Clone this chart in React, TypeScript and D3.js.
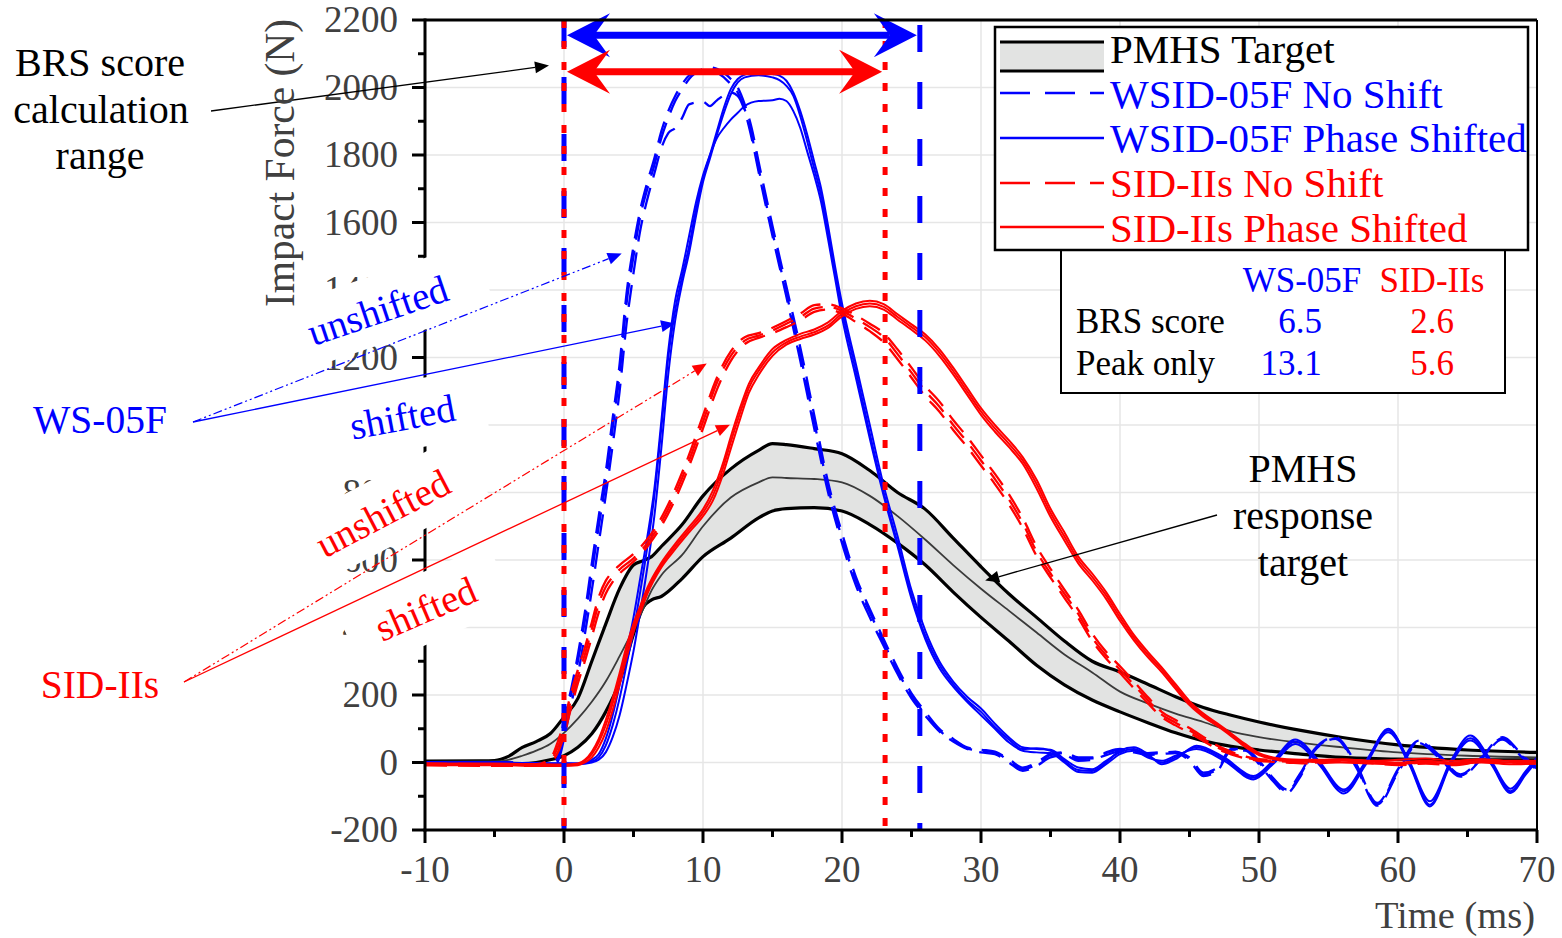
import React from 'react';
import * as d3 from 'd3';

// axis ticks
const xTickValues = [-10, 0, 10, 20, 30, 40, 50, 60, 70];
const xMinorValues = [-5, 5, 15, 25, 35, 45, 55, 65];
const yTickValues = [-200, 0, 200, 400, 600, 800, 1000, 1200, 1400, 1600, 1800, 2000, 2200];
const yMinorValues = [-100, 100, 300, 500, 700, 900, 1100, 1300, 1500, 1700, 1900, 2100];

// BRS score calculation windows (ms)
const brsEndWs = 25.6;
const brsEndSid = 23.1;

// PMHS target corridor
const pmhsT = [-10, -6, -5, -4, -3, -2, -1, 0, 1, 2, 3, 4, 5, 5.7, 6.3, 7, 8.5, 10, 12, 14, 15, 16, 18, 20, 22, 24, 26, 28, 30, 32, 34, 36, 38, 40, 42, 44, 46, 48, 50, 53, 56, 60, 65, 70];
const pmhsUpper = [4, 5, 6, 18, 45, 62, 85, 135, 190, 300, 410, 515, 585, 598, 610, 640, 705, 790, 870, 925, 945, 942, 930, 915, 865, 800, 750, 665, 580, 500, 430, 360, 300, 268, 232, 195, 163, 140, 120, 95, 74, 52, 37, 30];
const pmhsMean = [2, 3, 3, 8, 20, 35, 55, 88, 130, 180, 240, 315, 395, 455, 510, 555, 615, 700, 785, 830, 845, 843, 840, 830, 790, 730, 660, 585, 515, 450, 385, 320, 267, 210, 175, 145, 120, 92, 75, 58, 45, 30, 20, 15];
const pmhsLower = [0, 0, 0, -2, -3, 0, 8, 20, 45, 85, 150, 240, 380, 460, 482, 492, 545, 610, 665, 725, 745, 752, 755, 745, 705, 650, 585, 505, 430, 360, 288, 230, 185, 150, 118, 88, 64, 48, 37, 25, 15, 10, 8, 8];

// WSID-05F no shift (3 tests)
const blueNoShiftT = [-10, -5, -1, -0.5, 0, 0.5, 1, 1.5, 2, 2.5, 3, 3.5, 4, 4.5, 5, 5.5, 6, 6.5, 7, 7.5, 8, 8.5, 9, 10, 10.5, 11, 12, 12.5, 13, 13.5, 14, 15, 16, 17, 18, 19, 20, 21, 22, 23, 24, 25, 26, 27, 28, 29, 30, 31, 32, 33, 34, 35, 36, 37, 38, 39, 40, 41, 42, 43, 44, 45, 46, 47, 48, 49, 50, 51, 52, 53, 54, 55.5, 57, 58.5, 60, 61.5, 63, 64.5, 66, 67.5, 69, 70];
const blueNoShiftA = [0, 0, -3, 5, 110, 200, 300, 420, 560, 700, 830, 990, 1150, 1360, 1500, 1620, 1700, 1770, 1850, 1910, 1960, 1995, 2025, 2055, 2060, 2055, 2025, 2000, 1950, 1880, 1780, 1590, 1410, 1230, 1030, 830, 680, 550, 455, 365, 280, 205, 150, 100, 70, 45, 38, 32, 10, -15, 0, 25, 30, 15, 15, 30, 40, 35, 28, 30, 30, 15, -30, -15, 40, 40, 5, -45, -80, -30, 40, 75, -5, -120, -20, 65, 20, -35, 15, 75, 20, -15];
const blueNoShiftB = [0, 0, -3, 0, 70, 170, 260, 380, 510, 650, 790, 940, 1100, 1300, 1450, 1580, 1670, 1745, 1820, 1865, 1880, 1910, 1950, 1958, 1945, 1962, 1985, 1975, 1930, 1850, 1750, 1560, 1380, 1190, 990, 800, 650, 525, 430, 345, 262, 190, 138, 92, 62, 40, 30, 25, 0, -25, -10, 15, 22, 5, 8, 22, 32, 30, 22, 25, 28, 5, -40, -25, 35, 35, -5, -55, -90, -40, 35, 70, -15, -128, -30, 58, 12, -42, 10, 68, 12, -22];
const blueNoShiftC = [0, 0, -3, 10, 130, 215, 320, 445, 590, 730, 860, 1020, 1180, 1390, 1530, 1640, 1720, 1790, 1870, 1930, 1975, 2010, 2035, 2050, 2055, 2045, 2010, 1985, 1935, 1860, 1760, 1570, 1390, 1210, 1010, 815, 665, 540, 445, 355, 270, 198, 142, 95, 66, 42, 35, 30, 5, -20, -5, 22, 28, 10, 12, 28, 38, 32, 25, 28, 32, 10, -35, -20, 38, 38, 0, -50, -85, -35, 38, 72, -10, -124, -25, 62, 16, -38, 12, 72, 16, -18];

// WSID-05F phase shifted (3 tests)
const blueShiftT = [-10, -5, -1, 0, 1, 2, 2.5, 3, 3.5, 4, 4.5, 5, 5.5, 6, 6.5, 7, 7.5, 8, 8.5, 9, 9.5, 10, 10.5, 11, 11.5, 12, 12.5, 13, 14, 15, 15.5, 16, 16.5, 17, 17.5, 18, 18.5, 19, 19.5, 20, 21, 22, 23, 24, 25, 26, 27, 28, 29, 30, 31, 32, 33, 34, 35, 36, 37, 38, 39, 40, 41, 42, 43, 44, 45.5, 47.5, 49.6, 51, 52.6, 54.3, 56.1, 57.7, 59.3, 60.8, 62.3, 63.8, 65.2, 66.7, 68.1, 69.2, 70];
const blueShiftA = [0, 0, -3, -3, -3, 3, 15, 50, 110, 190, 290, 390, 510, 640, 790, 990, 1200, 1340, 1440, 1530, 1640, 1730, 1800, 1870, 1940, 1995, 2025, 2038, 2045, 2040, 2035, 2020, 1985, 1930, 1860, 1780, 1700, 1590, 1470, 1360, 1180, 1000, 820, 670, 510, 390, 300, 240, 195, 160, 115, 75, 45, 40, 38, 10, -15, -20, 5, 30, 40, 20, 0, 15, 45, 10, -45, 0, 62, 0, -85, 0, 100, 0, -125, 0, 72, 0, -85, -30, 10];
const blueShiftB = [0, 0, -3, -3, -5, 0, 8, 30, 75, 140, 230, 330, 450, 580, 730, 930, 1150, 1310, 1420, 1510, 1620, 1720, 1790, 1860, 1925, 1980, 2015, 2030, 2036, 2030, 2022, 2005, 1975, 1915, 1840, 1760, 1680, 1570, 1450, 1340, 1160, 975, 800, 650, 495, 375, 290, 232, 185, 150, 105, 68, 40, 42, 35, 5, -22, -25, 0, 35, 45, 25, -5, 10, 50, 15, -40, 5, 68, 5, -80, 5, 95, 5, -115, 5, 80, 5, -78, -25, 15];
const blueShiftC = [0, 0, -3, -3, -3, 8, 25, 70, 140, 230, 330, 430, 550, 670, 810, 1010, 1220, 1370, 1460, 1560, 1660, 1740, 1800, 1850, 1880, 1905, 1925, 1945, 1960, 1962, 1967, 1960, 1930, 1880, 1810, 1740, 1660, 1550, 1435, 1320, 1140, 960, 790, 640, 485, 365, 280, 225, 180, 140, 100, 60, 35, 30, 28, 0, -28, -30, -5, 25, 35, 15, 5, 20, 40, 5, -50, -5, 55, -5, -92, -5, 90, -5, -130, -5, 65, -5, -90, -35, 5];

// SID-IIs no shift (3 tests)
const redNoShiftT = [-10, -5, -2, -1, -0.5, 0, 0.5, 1, 1.5, 2, 2.5, 3, 3.5, 4, 5, 6, 7, 8, 9, 10, 11, 12, 13, 14, 15, 16, 17, 18, 19, 20, 21, 22, 23, 24, 25, 26, 27, 28, 29, 30, 31, 32, 33, 34, 35, 36, 37, 38, 39, 40, 41, 42, 43, 44, 45, 46, 47, 48, 49, 50, 51, 52, 54, 56, 58, 60, 62, 64, 66, 68, 70];
const redNoShiftA = [-5, -8, -8, 5, 40, 100, 185, 255, 320, 395, 470, 520, 550, 572, 605, 650, 712, 795, 895, 1010, 1125, 1205, 1250, 1265, 1280, 1300, 1320, 1345, 1350, 1338, 1315, 1290, 1260, 1210, 1155, 1100, 1055, 1000, 950, 895, 840, 780, 710, 625, 560, 500, 440, 370, 318, 275, 230, 185, 142, 118, 95, 70, 45, 28, 15, 8, 5, 3, 0, 5, 2, -5, 0, -5, 5, 0, 0];
const redNoShiftB = [-8, -10, -10, 0, 25, 80, 160, 235, 300, 372, 445, 500, 535, 560, 595, 640, 700, 780, 878, 990, 1105, 1190, 1240, 1258, 1272, 1290, 1310, 1335, 1342, 1330, 1305, 1278, 1245, 1195, 1140, 1085, 1040, 985, 935, 880, 825, 765, 695, 612, 548, 488, 428, 360, 308, 265, 220, 176, 135, 110, 88, 64, 40, 24, 12, 5, 2, 0, -3, 2, -2, -8, -3, -8, 2, -3, -3];
const redNoShiftC = [-3, -5, -5, 10, 55, 120, 205, 275, 340, 415, 490, 538, 565, 585, 618, 662, 725, 810, 912, 1028, 1140, 1218, 1260, 1272, 1288, 1308, 1330, 1355, 1358, 1346, 1325, 1300, 1272, 1224, 1170, 1115, 1070, 1015, 965, 910, 855, 795, 725, 640, 574, 512, 452, 382, 328, 285, 240, 194, 150, 126, 102, 76, 50, 32, 18, 10, 8, 5, 3, 8, 5, -2, 3, -2, 8, 3, 3];

// SID-IIs phase shifted (3 tests)
const redShiftT = [-10, -5, -2, 0, 1, 1.5, 2, 2.5, 3, 3.5, 4, 4.5, 5, 5.5, 6, 7, 8, 9, 10, 10.7, 11.5, 12, 12.7, 13.3, 14, 15, 16, 17, 18, 19, 20, 21, 22, 23, 24, 25, 26, 27, 28, 29, 30, 31, 32, 33, 34, 35, 36, 37, 38, 39, 40, 41, 42, 43, 44, 45, 46, 47, 48, 49, 50, 51, 52, 54, 56, 58, 60, 62, 64, 66, 68, 70];
const redShiftA = [-5, -5, -8, -8, -5, 5, 25, 60, 110, 175, 250, 330, 400, 455, 510, 585, 640, 690, 740, 790, 880, 950, 1040, 1110, 1160, 1215, 1245, 1262, 1275, 1295, 1330, 1352, 1360, 1350, 1320, 1290, 1260, 1215, 1160, 1100, 1040, 990, 945, 895, 825, 740, 670, 600, 550, 495, 430, 370, 320, 275, 225, 175, 140, 112, 82, 50, 25, 12, 8, 5, 5, 2, 0, 5, 0, 5, 0, 0];
const redShiftB = [-8, -8, -10, -10, -8, 0, 15, 45, 90, 155, 230, 310, 385, 445, 500, 578, 632, 682, 730, 775, 862, 930, 1022, 1095, 1148, 1205, 1238, 1255, 1268, 1288, 1322, 1344, 1352, 1342, 1312, 1282, 1250, 1205, 1150, 1090, 1030, 980, 935, 885, 812, 728, 658, 590, 540, 485, 420, 362, 312, 268, 218, 170, 135, 108, 78, 46, 22, 10, 5, 2, 0, -3, -5, 0, -5, 0, -5, -3];
const redShiftC = [-3, -3, -5, -6, -3, 8, 32, 70, 125, 190, 265, 345, 412, 465, 518, 592, 648, 698, 750, 805, 895, 965, 1055, 1122, 1170, 1225, 1252, 1270, 1283, 1304, 1338, 1360, 1368, 1358, 1328, 1298, 1268, 1225, 1170, 1110, 1050, 1000, 955, 905, 838, 752, 682, 610, 560, 505, 440, 378, 328, 282, 232, 182, 145, 116, 86, 55, 28, 15, 10, 8, 10, 5, 8, 12, 5, 10, 5, 5];

// legend + score table
const legendLabels = ['PMHS Target', 'WSID-05F No Shift', 'WSID-05F Phase Shifted', 'SID-IIs No Shift', 'SID-IIs Phase Shifted'];
const tableHeaders = ['WS-05F', 'SID-IIs'];
const tableRows = ['BRS score', 'Peak only'];
const tableWs = ['6.5', '13.1'];
const tableSid = ['2.6', '5.6'];

const BLUE = '#0000ff';
const RED = '#ff0000';
const GRAY = '#404040';
const FONT = '"Liberation Serif", "Times New Roman", serif';

function headPoints(x1: number, y1: number, x2: number, y2: number, len = 14, hw = 6) {
  const dx = x2 - x1, dy = y2 - y1;
  const n = Math.hypot(dx, dy);
  const ux = dx / n, uy = dy / n;
  const bx = x2 - ux * len, by = y2 - uy * len;
  return {
    base: [bx, by],
    pts: `${x2},${y2} ${bx - uy * hw},${by + ux * hw} ${bx + uy * hw},${by - ux * hw}`,
  };
}

function Arrow({ x1, y1, x2, y2, color, width = 1.2, dash }: any) {
  const h = headPoints(x1, y1, x2, y2);
  return (
    <g>
      <line x1={x1} y1={y1} x2={h.base[0]} y2={h.base[1]} stroke={color} strokeWidth={width} strokeDasharray={dash} />
      <polygon points={h.pts} fill={color} />
    </g>
  );
}

function RangeArrow({ xl, xr, yy, color }: any) {
  const L = 43, W = 22, N = 27;
  const d =
    `M${xl},${yy} L${xl + L},${yy - W} L${xl + N},${yy} L${xl + L},${yy + W} Z ` +
    `M${xr},${yy} L${xr - L},${yy - W} L${xr - N},${yy} L${xr - L},${yy + W} Z`;
  return (
    <g>
      <line x1={xl + N} x2={xr - N} y1={yy} y2={yy} stroke={color} strokeWidth={7} />
      <path d={d} fill={color} />
    </g>
  );
}

export default function App() {
  const x = d3.scaleLinear().domain([-10, 70]).range([425, 1537]);
  const y = d3.scaleLinear().domain([-200, 2200]).range([830, 20]);

  const path = (ts: number[], vs: number[]) =>
    d3.line<number>().x((_, i) => x(ts[i])).y((v) => y(v)).curve(d3.curveMonotoneX)(vs) as string;

  const band = d3
    .area<number>()
    .x((_, i) => x(pmhsT[i]))
    .y0((_, i) => y(pmhsLower[i]))
    .y1((v) => y(v))
    .curve(d3.curveMonotoneX)(pmhsUpper) as string;

  const groups = [
    { t: blueNoShiftT, runs: [blueNoShiftA, blueNoShiftB, blueNoShiftC], color: BLUE, dash: '22 11', w: 2.3 },
    { t: blueShiftT, runs: [blueShiftA, blueShiftB, blueShiftC], color: BLUE, dash: undefined, w: 2 },
    { t: redNoShiftT, runs: [redNoShiftA, redNoShiftB, redNoShiftC], color: RED, dash: '22 11', w: 2.3 },
    { t: redShiftT, runs: [redShiftA, redShiftB, redShiftC], color: RED, dash: undefined, w: 2 },
  ];

  const callouts = [
    { text: 'unshifted', color: BLUE, cx: 382, cy: 323, angle: -18.6, w: 145, pad: 40 },
    { text: 'shifted', color: BLUE, cx: 405, cy: 430, angle: -10.7, w: 106, pad: 30 },
    { text: 'unshifted', color: RED, cx: 389, cy: 525, angle: -27.6, w: 145, pad: 30 },
    { text: 'shifted', color: RED, cx: 431, cy: 621, angle: -23.3, w: 106, pad: 30 },
  ];

  const legendRows = [56, 93, 138, 183, 227];
  const legendBase = [63, 108, 152, 197, 242];
  const legendStyles = [
    null,
    { color: BLUE, dash: '30 15' },
    { color: BLUE, dash: undefined },
    { color: RED, dash: '30 15' },
    { color: RED, dash: undefined },
  ];

  return (
    <svg width={1562} height={938} style={{ position: 'absolute', left: 0, top: 0, background: '#fff' }} fontFamily={FONT}>
      <rect x={0} y={0} width={1562} height={938} fill="#fff" />

      {/* grid */}
      <g stroke="#e6e6e6" strokeWidth={1.5}>
        {xTickValues.slice(1, -1).map((v) => (
          <line key={'gx' + v} x1={x(v)} x2={x(v)} y1={y(2200)} y2={y(-200)} />
        ))}
        {yTickValues.slice(1, -1).map((v) => (
          <line key={'gy' + v} x1={x(-10)} x2={x(70)} y1={y(v)} y2={y(v)} />
        ))}
      </g>

      {/* PMHS corridor */}
      <path d={band} fill="#e2e3e2" />
      <path d={path(pmhsT, pmhsUpper)} fill="none" stroke="#000" strokeWidth={3.2} />
      <path d={path(pmhsT, pmhsLower)} fill="none" stroke="#000" strokeWidth={3.2} />
      <path d={path(pmhsT, pmhsMean)} fill="none" stroke="#3a3a3a" strokeWidth={1.8} />

      {/* dummy responses */}
      {groups.map((g, gi) =>
        g.runs.map((r, ri) => (
          <path key={`c${gi}-${ri}`} d={path(g.t, r)} fill="none" stroke={g.color} strokeWidth={g.w} strokeDasharray={g.dash} />
        ))
      )}

      {/* BRS windows */}
      <line x1={x(0)} x2={x(0)} y1={y(2200)} y2={y(-200)} stroke={BLUE} strokeWidth={5} strokeDasharray="27 30" />
      <line x1={x(brsEndWs)} x2={x(brsEndWs)} y1={y(2185)} y2={y(-200)} stroke={BLUE} strokeWidth={5} strokeDasharray="27 30" />
      <line x1={x(0)} x2={x(0)} y1={y(2200)} y2={y(-200)} stroke={RED} strokeWidth={5} strokeDasharray="8 13" />
      <line x1={x(brsEndSid)} x2={x(brsEndSid)} y1={y(2200)} y2={y(-200)} stroke={RED} strokeWidth={5} strokeDasharray="8 13" />
      <RangeArrow xl={x(0) + 3} xr={x(brsEndWs) - 3} yy={y(2155)} color={BLUE} />
      <RangeArrow xl={x(0) + 3} xr={x(brsEndSid) - 3} yy={y(2047)} color={RED} />

      {/* axes */}
      <g stroke="#000">
        <line x1={x(-10)} x2={x(70)} y1={y(2200)} y2={y(2200)} strokeWidth={3} />
        <line x1={x(70)} x2={x(70)} y1={y(2200)} y2={y(-200)} strokeWidth={2} />
        <line x1={x(-10)} x2={x(-10)} y1={y(2200) - 1.5} y2={y(-200) + 1.5} strokeWidth={3} />
        <line x1={x(-10) - 1.5} x2={x(70) + 1} y1={y(-200)} y2={y(-200)} strokeWidth={3} />
        {xTickValues.map((v) => (
          <line key={'xt' + v} x1={x(v)} x2={x(v)} y1={y(-200)} y2={y(-200) + 13} strokeWidth={3} />
        ))}
        {xMinorValues.map((v) => (
          <line key={'xm' + v} x1={x(v)} x2={x(v)} y1={y(-200)} y2={y(-200) + 7} strokeWidth={3} />
        ))}
        {yTickValues.map((v) => (
          <line key={'yt' + v} x1={x(-10) - 13} x2={x(-10)} y1={y(v)} y2={y(v)} strokeWidth={3} />
        ))}
        {yMinorValues.map((v) => (
          <line key={'ym' + v} x1={x(-10) - 7} x2={x(-10)} y1={y(v)} y2={y(v)} strokeWidth={3} />
        ))}
      </g>
      <g fill={GRAY} fontSize={37}>
        {xTickValues.map((v) => (
          <text key={'xl' + v} x={x(v)} y={882} textAnchor="middle">{v}</text>
        ))}
        {yTickValues.map((v) => (
          <text key={'yl' + v} x={398} y={y(v) + 12} textAnchor="end">{v}</text>
        ))}
      </g>

      {/* callout labels with white backing */}
      {callouts.map((c, i) => (
        <g key={'co' + i} transform={`translate(${c.cx},${c.cy}) rotate(${c.angle})`}>
          <rect x={-(c.w / 2 + c.pad)} y={-48} width={c.w + 2 * c.pad} height={68} fill="#fff" />
          <text x={0} y={0} textAnchor="middle" fontSize={39} fill={c.color}>{c.text}</text>
        </g>
      ))}

      {/* annotations */}
      <text x={100} y={433} textAnchor="middle" fontSize={39.5} fill={BLUE}>WS-05F</text>
      <text x={100} y={698} textAnchor="middle" fontSize={39.5} fill={RED}>SID-IIs</text>
      <Arrow x1={193} y1={422} x2={x(4.15)} y2={y(1508)} color={BLUE} width={1.2} dash="9 3 2 3 2 3" />
      <Arrow x1={193} y1={422} x2={x(7.99)} y2={y(1301)} color={BLUE} width={1.3} />
      <Arrow x1={184} y1={682} x2={x(10.27)} y2={y(1182)} color={RED} width={1.2} dash="9 3 2 3 2 3" />
      <Arrow x1={184} y1={682} x2={x(11.94)} y2={y(1001)} color={RED} width={1.3} />

      <g fontSize={40} fill="#000" textAnchor="middle">
        <text x={100} y={76}>BRS score</text>
        <text x={101} y={123}>calculation</text>
        <text x={100} y={169}>range</text>
        <text x={1303} y={482}>PMHS</text>
        <text x={1303} y={529}>response</text>
        <text x={1303} y={576}>target</text>
      </g>
      <Arrow x1={211} y1={111} x2={x(-1.08)} y2={y(2065)} color="#000" width={1.3} />
      <Arrow x1={1217} y1={515} x2={x(30.3)} y2={y(539)} color="#000" width={1.3} />

      {/* axis titles */}
      <text transform={`translate(294,163) rotate(-90)`} textAnchor="middle" fontSize={41.5} fill={GRAY}>Impact Force (N)</text>
      <text x={1535} y={928} textAnchor="end" fontSize={38.5} fill={GRAY}>Time (ms)</text>

      {/* score table */}
      <rect x={1061} y={250} width={444} height={143} fill="#fff" stroke="#000" strokeWidth={2} />
      <g fontSize={35}>
        <text x={1302} y={292} textAnchor="middle" fill={BLUE}>{tableHeaders[0]}</text>
        <text x={1432} y={292} textAnchor="middle" fill={RED}>{tableHeaders[1]}</text>
        {tableRows.map((r, i) => (
          <g key={'tr' + i}>
            <text x={1076} y={333 + i * 42} fill="#000">{r}</text>
            <text x={i === 0 ? 1300 : 1291} y={333 + i * 42} textAnchor="middle" fill={BLUE}>{tableWs[i]}</text>
            <text x={1432} y={333 + i * 42} textAnchor="middle" fill={RED}>{tableSid[i]}</text>
          </g>
        ))}
      </g>

      {/* legend */}
      <rect x={995} y={27} width={533} height={223} fill="#fff" stroke="#000" strokeWidth={2.5} />
      <rect x={1000} y={42} width={104} height={29} fill="#e2e3e2" />
      <line x1={1000} x2={1104} y1={42} y2={42} stroke="#000" strokeWidth={3} />
      <line x1={1000} x2={1104} y1={71} y2={71} stroke="#000" strokeWidth={3} />
      {legendStyles.map((s, i) =>
        s ? (
          <line key={'ll' + i} x1={1000} x2={1104} y1={legendRows[i]} y2={legendRows[i]} stroke={s.color} strokeWidth={2.3} strokeDasharray={s.dash} />
        ) : null
      )}
      <g fontSize={41}>
        {legendLabels.map((l, i) => (
          <text key={'lt' + i} x={1110} y={legendBase[i]} fill={i === 0 ? '#000' : legendStyles[i]!.color}>{l}</text>
        ))}
      </g>
    </svg>
  );
}
